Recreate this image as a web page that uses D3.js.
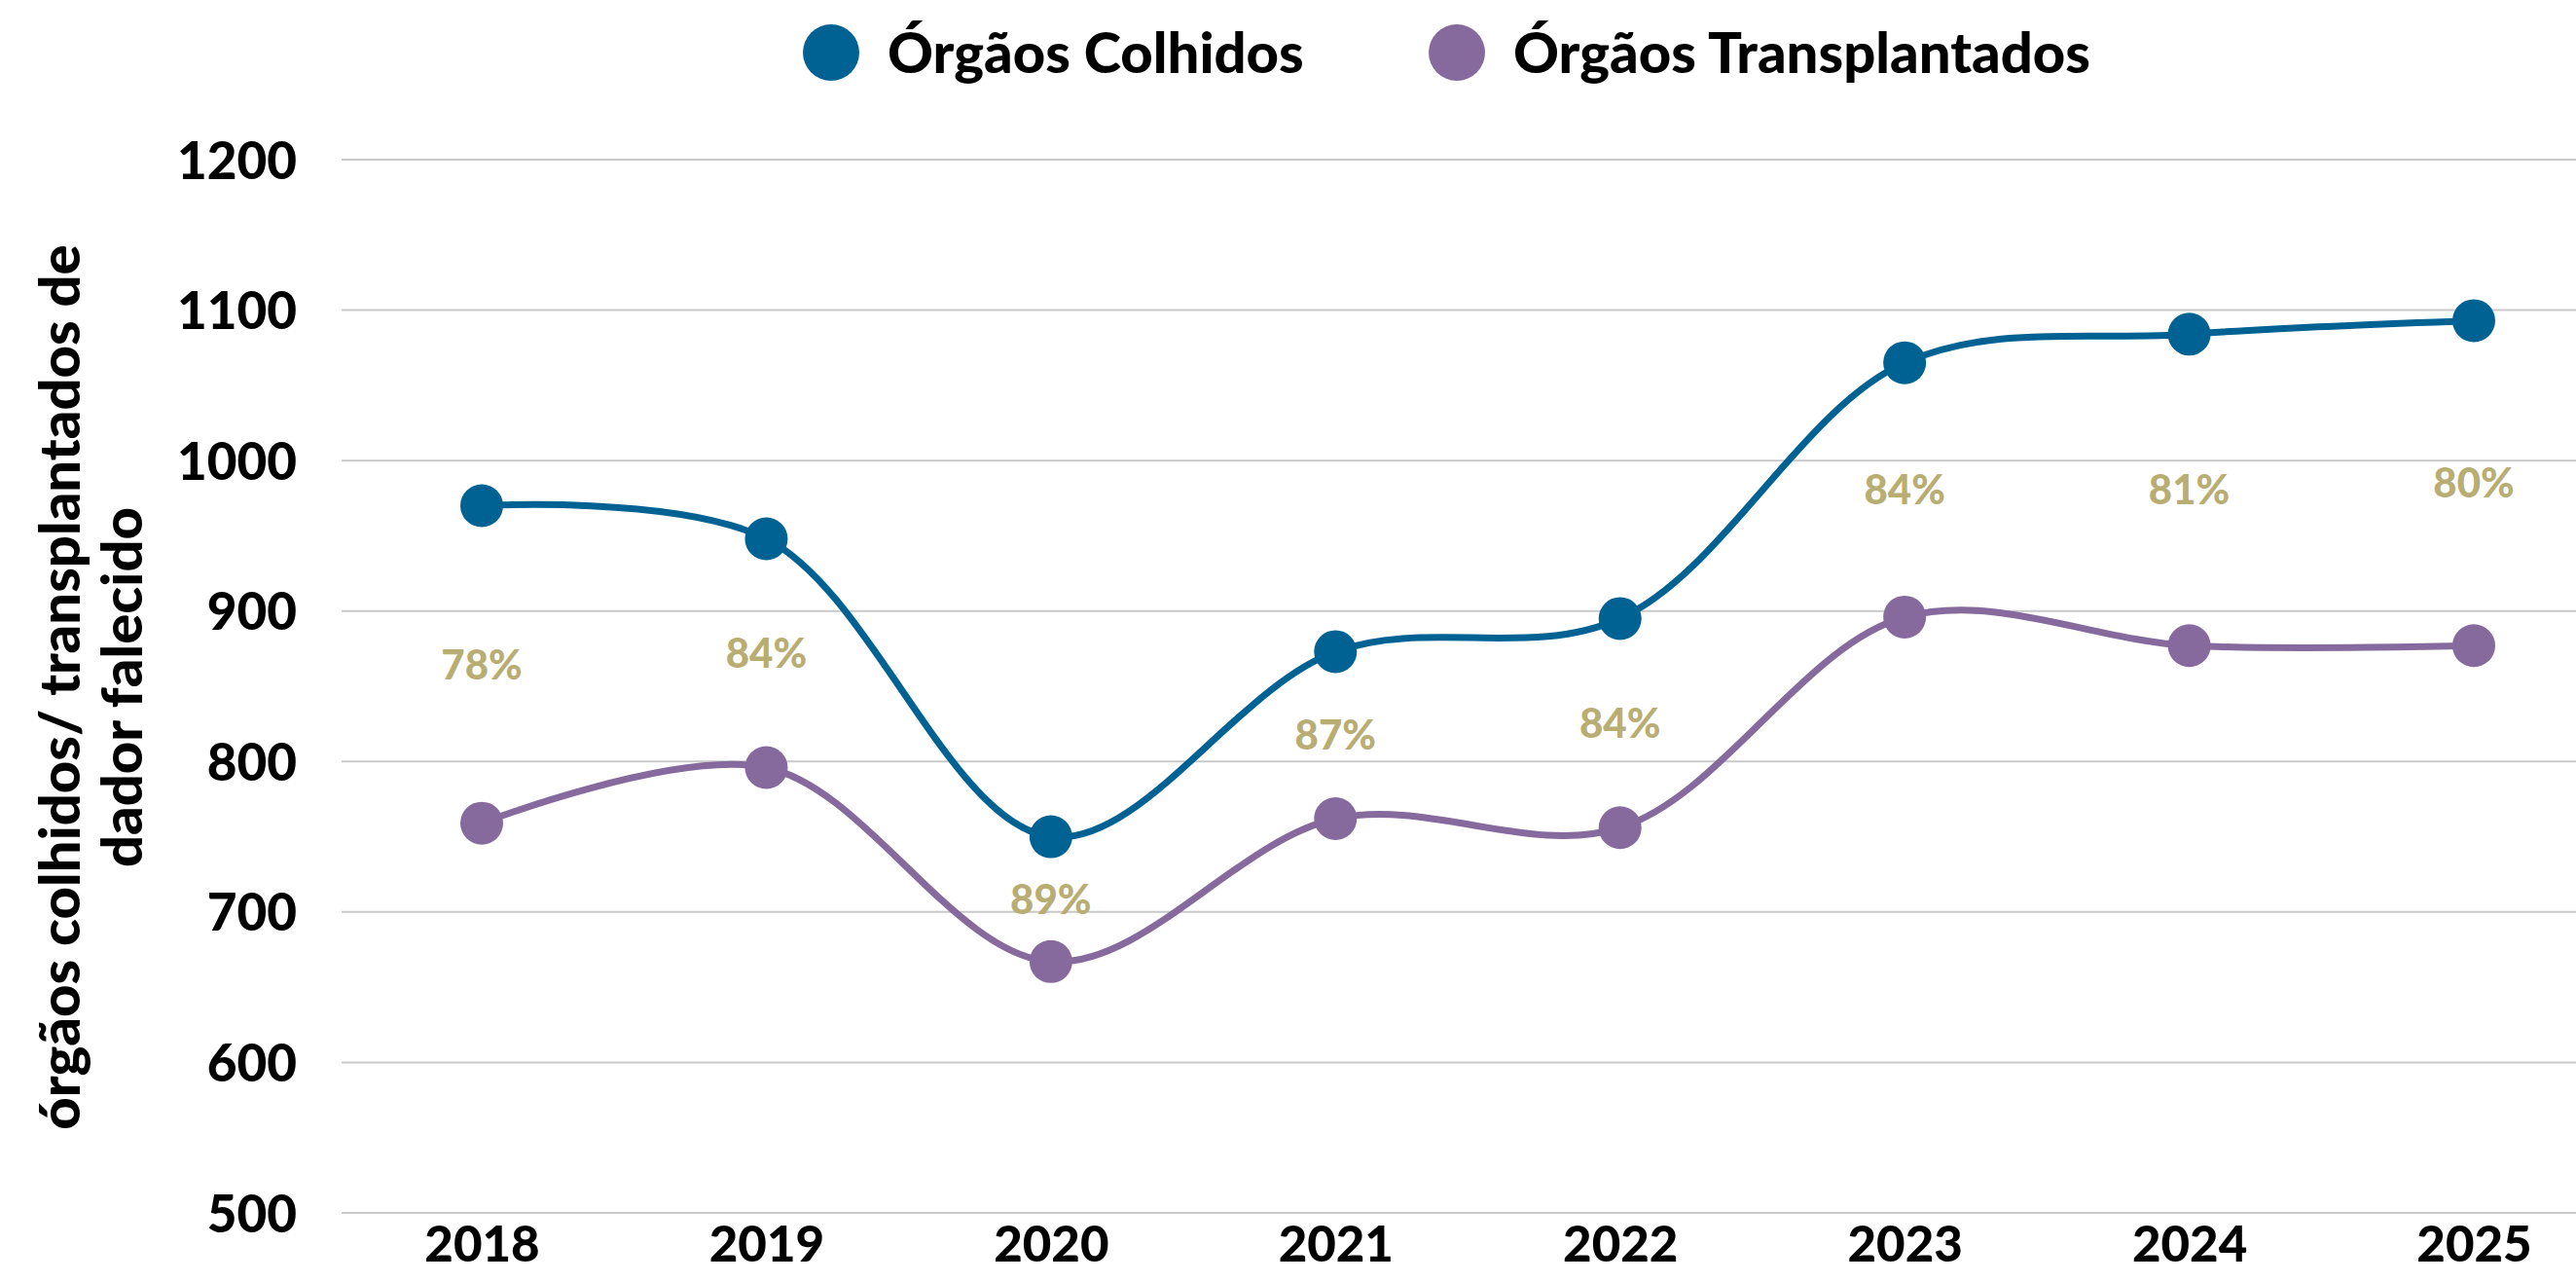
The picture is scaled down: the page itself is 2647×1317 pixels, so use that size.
<!DOCTYPE html>
<html>
<head>
<meta charset="utf-8">
<script src="https://cdn.jsdelivr.net/npm/d3@7"></script>
<style>
  html, body { margin: 0; padding: 0; background: #fff; }
  svg { display: block; font-family: "Lato", "Open Sans", sans-serif; }
</style>
</head>
<body>
<svg id="chart" width="2647" height="1317"></svg>
<script>
// Chart data
const years = ["2018", "2019", "2020", "2021", "2022", "2023", "2024", "2025"];
const colhidos = [970, 948, 750, 873, 895, 1065, 1084, 1093];
const transplantados = [759, 796, 667, 762, 756, 896, 877, 877];
const taxa = ["78%", "84%", "89%", "87%", "84%", "84%", "81%", "80%"];
const yTicks = [500, 600, 700, 800, 900, 1000, 1100, 1200];
const seriesNames = ["Órgãos Colhidos", "Órgãos Transplantados"];

const colors = ["#006292", "#86699d"];
const pctColor = "#b8ad72";

const W = 2647, H = 1317;
const svg = d3.select("#chart");

const x = d3.scalePoint().domain(years).range([495, 2542]);
const y = d3.scaleLinear().domain([500, 1200]).range([1246, 164]);
const gridLeft = 351;

// Gridlines
svg.append("g").selectAll("line")
    .data(yTicks)
    .enter().append("line")
    .attr("x1", gridLeft).attr("x2", W)
    .attr("y1", d => y(d)).attr("y2", d => y(d))
    .style("stroke", "#c9c9c9").style("stroke-width", 2);

// Y axis labels
const yAxis = svg.append("g")
    .attr("transform", `translate(305,0)`)
    .call(d3.axisLeft(y).tickValues(yTicks).tickFormat(d3.format("d")).tickSize(0).tickPadding(0));
yAxis.select(".domain").remove();
yAxis.selectAll("text")
    .style("font-family", "Lato, sans-serif")
    .style("font-weight", 900)
    .style("font-size", "53px")
    .style("fill", "#000")
    .attr("dy", "0.36em");

// X axis labels
const xAxis = svg.append("g")
    .attr("transform", `translate(0,1278)`)
    .call(d3.axisBottom(x).tickSize(0).tickPadding(0));
xAxis.select(".domain").remove();
xAxis.selectAll("text")
    .style("font-family", "Lato, sans-serif")
    .style("font-weight", 900)
    .style("font-size", "51px")
    .style("fill", "#000")
    .attr("dy", "0.36em");

// Y axis title (two lines, rotated)
const title = svg.append("text")
    .attr("transform", "translate(114,706) rotate(-90)")
    .attr("text-anchor", "middle")
    .style("font-weight", 900)
    .style("font-size", "58px")
    .style("fill", "#000");
title.append("tspan").attr("x", 0).attr("dy", "-0.55em").text("órgãos colhidos/ transplantados de");
title.append("tspan").attr("x", 0).attr("dy", "1.1em").text("dador falecido");

// Lines
const series = [colhidos, transplantados];
const line = d3.line()
    .x((d, i) => x(years[i]))
    .y(d => y(d))
    .curve(d3.curveCatmullRom.alpha(0.5));

series.slice().reverse().forEach((vals, k) => {
    const idx = series.length - 1 - k;
    const g = svg.append("g");
    g.append("path")
        .datum(vals)
        .attr("d", line)
        .style("fill", "none")
        .style("stroke", colors[idx])
        .style("stroke-width", 7);
    g.selectAll("circle")
        .data(vals)
        .enter().append("circle")
        .attr("cx", (d, i) => x(years[i]))
        .attr("cy", d => y(d))
        .attr("r", 22)
        .style("fill", colors[idx]);
});

// Percentage labels (midway between the two series)
svg.append("g").selectAll("text")
    .data(taxa)
    .enter().append("text")
    .attr("x", (d, i) => x(years[i]))
    .attr("y", (d, i) => y((colhidos[i] + transplantados[i]) / 2))
    .attr("dy", "0.36em")
    .attr("text-anchor", "middle")
    .style("font-weight", 900)
    .style("font-size", "42px")
    .style("fill", pctColor)
    .text(d => d);

// Legend
const legendX = [854, 1497];
const legend = svg.append("g").selectAll("g")
    .data(seriesNames)
    .enter().append("g")
    .attr("transform", (d, i) => `translate(${legendX[i]},54)`);
legend.append("circle")
    .attr("r", 29)
    .style("fill", (d, i) => colors[i]);
legend.append("text")
    .attr("x", 58)
    .attr("dy", "0.36em")
    .style("font-weight", 900)
    .style("font-size", "58px")
    .style("fill", "#000")
    .text(d => d);
</script>
</body>
</html>
